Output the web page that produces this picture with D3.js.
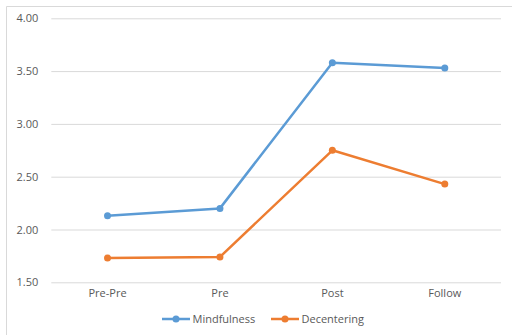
<!DOCTYPE html>
<html><head><meta charset="utf-8">
<script src="https://cdn.jsdelivr.net/npm/d3@7"></script>
<style>body{margin:0;background:#fff;}svg{display:block;}text{font-family:"Open Sans",sans-serif;fill:#595959;}</style>
</head><body><svg id="c" width="512" height="335"></svg>
<script>
const categories = ["Pre-Pre","Pre","Post","Follow"];
const mindfulness = [2.13, 2.20, 3.58, 3.53];
const decentering = [1.73, 1.74, 2.75, 2.43];
const yTicks = [1.5, 2.0, 2.5, 3.0, 3.5, 4.0];
const seriesNames = ["Mindfulness","Decentering"];
const colors = ["#5B9BD5","#ED7D31"];

const svg = d3.select("#c");
// chart border
svg.append("path").attr("d","M6.5,335 L6.5,6.5 L512,6.5").attr("fill","none").attr("stroke","#d9d9d9");

const x = d3.scaleBand().domain(categories).range([51.3,501]);
const y = d3.scaleLinear().domain([1.5,4]).range([282.3,18.3]);

const yAxis = svg.append("g").attr("transform","translate(51.3,0)")
  .call(d3.axisLeft(y).tickValues(yTicks).tickFormat(d3.format(".2f")).tickSize(-449.7).tickPadding(13));
yAxis.select(".domain").remove();
yAxis.selectAll(".tick line").attr("stroke","#d9d9d9");
yAxis.selectAll(".tick text").attr("font-size","11px").attr("fill","#595959").attr("font-family","Open Sans");

const xAxis = svg.append("g").attr("transform","translate(0,282.3)")
  .call(d3.axisBottom(x).tickSize(0).tickPadding(7));
xAxis.select(".domain").remove();
xAxis.selectAll(".tick text").attr("font-size","11px").attr("fill","#595959").attr("font-family","Open Sans");

const line = d3.line().x((d,i)=>x(categories[i])+x.bandwidth()/2).y(d=>y(d));
[mindfulness, decentering].forEach((s,k)=>{
  svg.append("path").datum(s).attr("d",line).attr("fill","none").attr("stroke",colors[k]).attr("stroke-width",2.5).attr("stroke-linejoin","round");
  svg.selectAll(null).data(s).enter().append("circle")
    .attr("cx",(d,i)=>x(categories[i])+x.bandwidth()/2).attr("cy",d=>y(d)).attr("r",3.5).attr("fill",colors[k]);
});

// legend
const legX = [162, 271];
const lg = svg.append("g");
seriesNames.forEach((n,k)=>{
  const g = lg.append("g").attr("transform",`translate(${legX[k]},319)`);
  g.append("line").attr("x1",0).attr("x2",28).attr("stroke",colors[k]).attr("stroke-width",2.5);
  g.append("circle").attr("cx",14).attr("r",3.5).attr("fill",colors[k]);
  g.append("text").attr("x",30.5).attr("dy","0.35em").attr("font-size","11px").text(n);
});
</script></body></html>
